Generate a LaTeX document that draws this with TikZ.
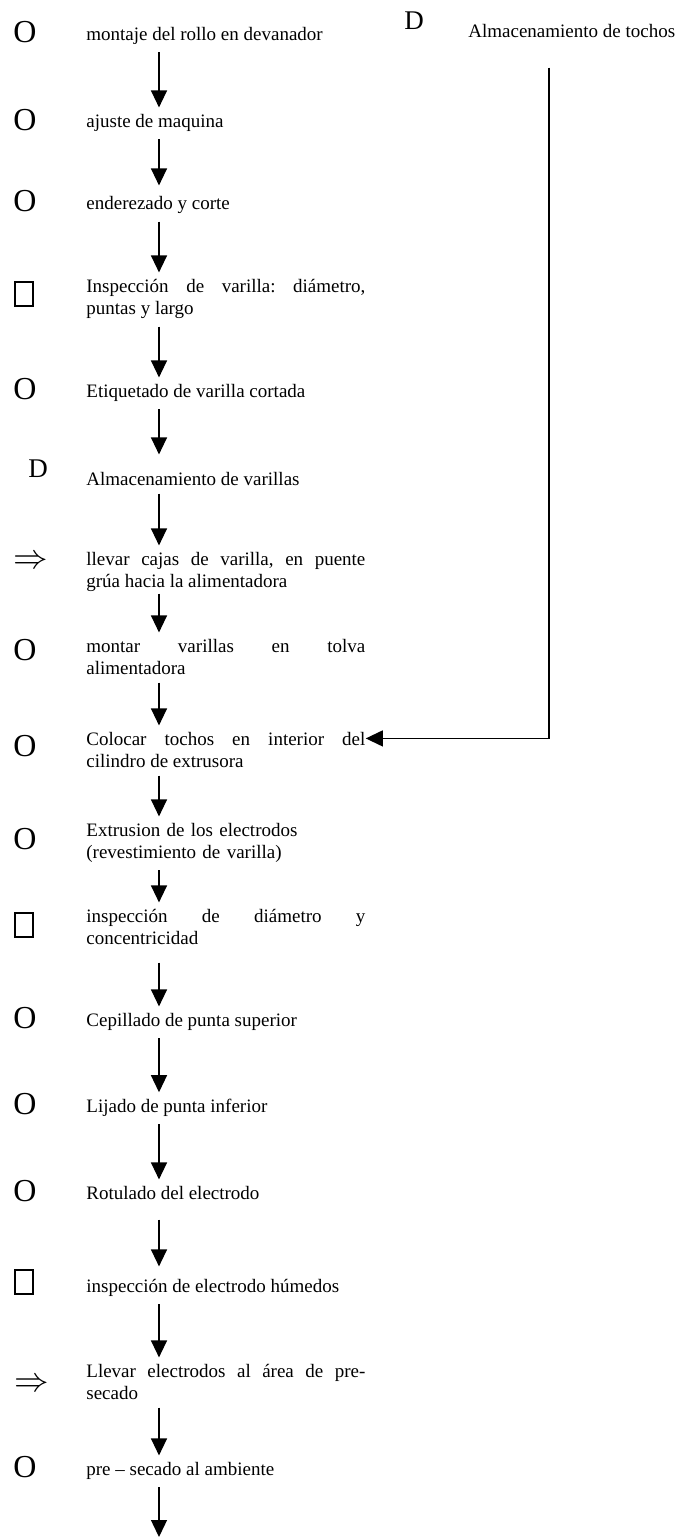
\documentclass[tikz,border=0pt]{standalone}
\usepackage{fontspec}
\setmainfont{Liberation Serif}
\usetikzlibrary{arrows.meta}
\frenchspacing

\tikzset{
  lbl/.style={anchor=base west, inner sep=0pt, font=\fontsize{9.5}{11}\selectfont},
  lbltwo/.style={lbl, text width=139.5pt, align=justify},
  opsym/.style={inner sep=0pt, font=\fontsize{16}{16}\selectfont},
  storesym/.style={inner sep=0pt, font=\fontsize{13.5}{13.5}\selectfont},
  inspsym/.style={draw, line width=0.6pt, minimum width=9pt, minimum height=12pt, inner sep=0pt},
  movesym/.style={inner sep=0pt, font=\fontsize{17.28}{18}\selectfont},
  flow/.style={-{Triangle[length=8.5pt,width=8pt]}, line width=0.65pt, shorten <=4pt, shorten >=3pt},
}

\begin{document}
\begin{tikzpicture}[x=0.5pt,y=-0.5pt]
            \useasboundingbox (0,0) rectangle (677,1539);
            \coordinate (spine) at (159,0);
            \coordinate (side) at (549,0);
            \coordinate (fin) at (159,1537);

            % symbols
            \node[opsym] (s1) at (25,32) {O};
            \node[opsym] (s2) at (25,120) {O};
            \node[opsym] (s3) at (25,201) {O};
            \node[inspsym] (s4) at (24,294) {};
            \node[opsym] (s5) at (25,389) {O};
            \node[storesym] (s6) at (38,469) {D};
            \node[movesym] (s7) at (31,562) {$\Rightarrow$};
            \node[opsym] (s8) at (25,650) {O};
            \node[opsym] (s9) at (25,746) {O};
            \node[opsym] (s10) at (25,839) {O};
            \node[inspsym] (s11) at (24,925) {};
            \node[opsym] (s12) at (25,1018) {O};
            \node[opsym] (s13) at (25,1104) {O};
            \node[opsym] (s14) at (25,1191) {O};
            \node[inspsym] (s15) at (24,1282) {};
            \node[movesym] (s16) at (32,1385) {$\Rightarrow$};
            \node[opsym] (s17) at (25,1467) {O};
            \node[storesym] (sd) at (414,21) {D};

            % steps
            \node[lbl] (t1) at (86,40) {montaje del rollo en devanador};
            \node[lbl] (t2) at (86,127) {ajuste de maquina};
            \node[lbl] (t3) at (86,209) {enderezado y corte};
            \node[lbltwo] (t4) at (86,292) {Inspección de varilla: diámetro,\linebreak puntas y largo};
            \node[lbl] (t5) at (86,397) {Etiquetado de varilla cortada};
            \node[lbl] (t6) at (86,485) {Almacenamiento de varillas};
            \node[lbltwo] (t7) at (86,565) {llevar cajas de varilla, en puente\linebreak grúa hacia la alimentadora};
            \node[lbltwo] (t8) at (86,652) {montar varillas en tolva\linebreak alimentadora};
            \node[lbltwo] (t9) at (86,745) {Colocar tochos en interior del\linebreak cilindro de extrusora};
            \node[lbltwo, align=left] (t10) at (86,836) {Extrusion de los electrodos\\ (revestimiento de varilla)};
            \node[lbltwo] (t11) at (86,922) {inspección de diámetro y\linebreak concentricidad};
            \node[lbl] (t12) at (86,1026) {Cepillado de punta superior};
            \node[lbl] (t13) at (86,1112) {Lijado de punta inferior};
            \node[lbl] (t14) at (86,1199) {Rotulado del electrodo};
            \node[lbl] (t15) at (86,1292) {inspección de electrodo húmedos};
            \node[lbltwo] (t16) at (86,1377) {Llevar electrodos al área de pre-\linebreak secado};
            \node[lbl] (t17) at (86,1475) {pre – secado al ambiente};
            \node[lbl] (tochos) at (468,37) {Almacenamiento de tochos};

            \draw[flow] (t1.south -| spine) to (t2.north -| spine);
            \draw[flow, shorten >=5pt] (t2.south -| spine) to (t3.north -| spine);
            \draw[flow] (t3.south -| spine) to (t4.north -| spine);
            \draw[flow] (t4.south -| spine) to (t5.north -| spine);
            \draw[flow, shorten >=8.5pt] (t5.south -| spine) to (t6.north -| spine);
            \draw[flow] (t6.south -| spine) to (t7.north -| spine);
            \draw[flow, shorten <=1pt] (t7.south -| spine) to (t8.north -| spine);
            \draw[flow] (t8.south -| spine) to (t9.north -| spine);
            \draw[flow] (t9.south -| spine) to (t10.north -| spine);
            \draw[flow] (t10.south -| spine) to (t11.north -| spine);
            \draw[flow, shorten <=9pt] (t11.south -| spine) to (t12.north -| spine);
            \draw[flow] (t12.south -| spine) to (t13.north -| spine);
            \draw[flow] (t13.south -| spine) to (t14.north -| spine);
            \draw[flow, shorten <=10pt, shorten >=6pt] (t14.south -| spine) to (t15.north -| spine);
            \draw[flow] (t15.south -| spine) to (t16.north -| spine);
            \draw[flow] (t16.south -| spine) to (t17.north -| spine);
            \draw[flow, shorten >=0pt] (t17.south -| spine) to (fin);
            \draw[flow, shorten <=15pt, shorten >=0pt] (tochos.south -| side) |- ([yshift=-3.5pt]t9.north east);
\end{tikzpicture}
\end{document}
